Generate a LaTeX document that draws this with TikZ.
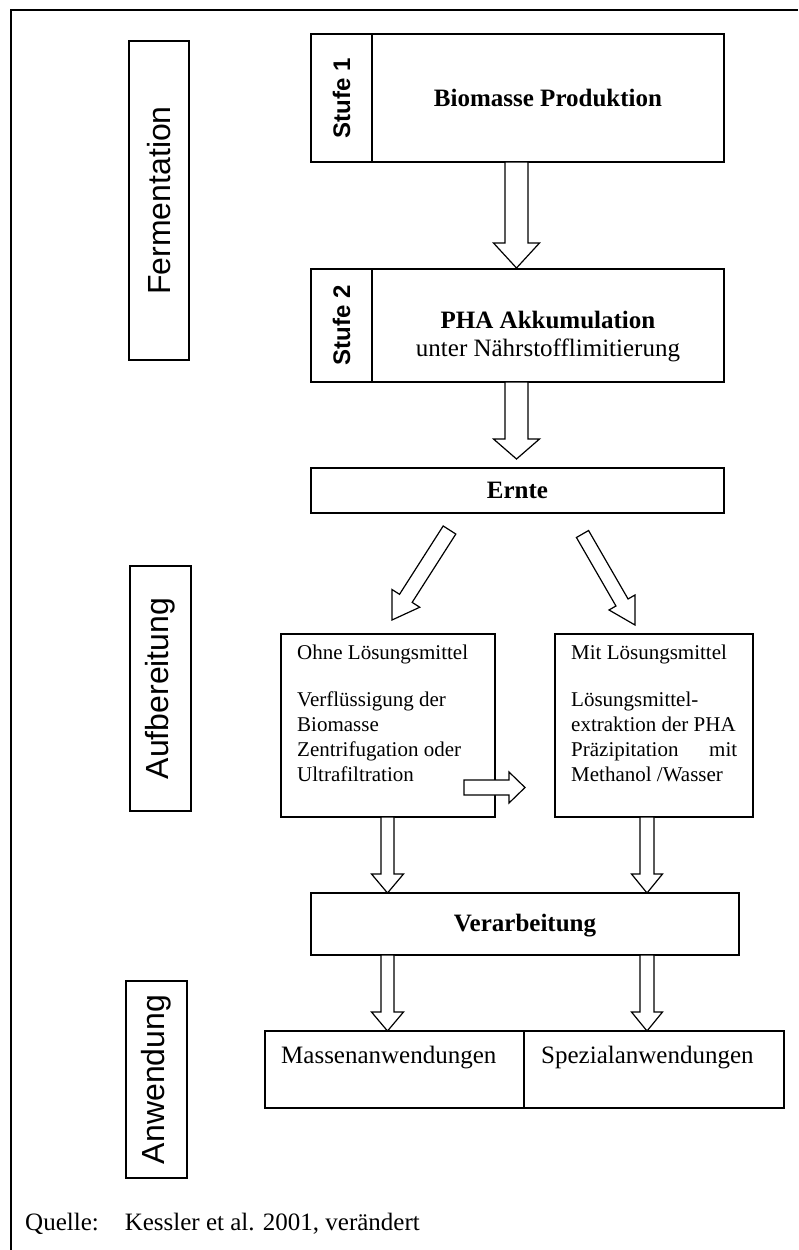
\documentclass[tikz,border=0pt]{standalone}
\usepackage{fontspec}
\setmainfont{Liberation Serif}
\setsansfont{Liberation Sans}
\usetikzlibrary{calc}
\newcommand{\blockarrow}[5]{%
  \coordinate (#1#2base) at ($(#2)!#5!(#1)$);
  \draw[barrow] ($(#1)!#3!90:(#2)$) -- ($(#1#2base)!#3!90:(#2)$) -- ($(#1#2base)!#4!90:(#2)$) -- (#2)
     -- ($(#1#2base)!#4!-90:(#2)$) -- ($(#1#2base)!#3!-90:(#2)$) -- ($(#1)!#3!-90:(#2)$) -- cycle;}
\tikzset{
  box/.style={draw, line width=1.4pt, inner sep=0pt},
  side/.style={box, rotate=90, font=\sffamily\fontsize{32}{32}\selectfont},
  stufelab/.style={box, rotate=90, font=\sffamily\bfseries\fontsize{24}{24}\selectfont},
  btitle/.style={font=\bfseries\fontsize{25}{30}\selectfont, inner sep=0pt},
  ntext/.style={font=\fontsize{25}{30}\selectfont, inner sep=0pt},
  para/.style={font=\fontsize{21}{25}\selectfont, align=left, inner sep=0pt},
  barrow/.style={draw, line width=1.2pt, fill=white, line join=miter},
  frameline/.style={line width=2.5pt}
}
\begin{document}
\begin{tikzpicture}[x=1pt,y=-1pt]
\useasboundingbox (0,0) rectangle (798,1250);
% frame
\coordinate (fr0) at (11,1250);
\coordinate (fr1) at (11,10);
\coordinate (fr2) at (798,10);
\draw[frameline] (fr0) -- (fr1) -- (fr2);

% side labels
\node[side, minimum width=319pt, minimum height=60pt] (ferm) at (159,200.5) {Fermentation};
\node[side, minimum width=245pt, minimum height=61pt] (aufb) at (160.5,688.5) {Aufbereitung};
\node[side, minimum width=197pt, minimum height=61pt] (anw) at (156.5,1079.5) {Anwendung};

% Stufe 1
\node[stufelab, minimum width=128pt, minimum height=61pt] (s1lab) at (341.5,98) {Stufe 1};
\node[box, btitle, minimum width=352pt, minimum height=128pt] (s1) at (548,98) {Biomasse Produktion};
% Stufe 2
\node[stufelab, minimum width=113pt, minimum height=61pt] (s2lab) at (341.5,325.5) {Stufe 2};
\node[box, minimum width=352pt, minimum height=113pt] (s2) at (548,325.5) {};
\node[btitle, anchor=base] (s2a) at (548,328.5) {PHA Akkumulation};
\node[ntext, anchor=base] (s2b) at (548,356) {unter Nährstofflimitierung};
% Ernte
\node[box, btitle, minimum width=413pt, minimum height=45pt] (ernte) at (517.5,490.5) {Ernte};
% Ohne / Mit
\node[box, minimum width=214pt, minimum height=183pt] (ohne) at (388,725.5) {};
\node[box, minimum width=198pt, minimum height=183pt] (mit) at (654,725.5) {};
\node[para, anchor=north west] (ohnet) at (297,645) {Ohne Lösungsmittel\\[22pt]Verflüssigung der\\Biomasse\\Zentrifugation oder\\Ultrafiltration};
\node[para, anchor=north west] (mitt) at (571,645) {Mit Lösungsmittel\\[22pt]Lösungsmittel-\\extraktion der PHA\\\makebox[166pt]{Präzipitation\hfill mit}\\Methanol /Wasser};
% Verarbeitung
\node[box, btitle, minimum width=428pt, minimum height=62pt, text depth=2pt] (verarb) at (525,924) {Verarbeitung};
% Anwendungen
\node[box, minimum width=259pt, minimum height=77pt] (massen) at (394.5,1069.5) {};
\node[box, minimum width=260pt, minimum height=77pt] (spez) at (654,1069.5) {};
\node[ntext, anchor=base west] (massent) at (281,1063) {Massenanwendungen};
\node[ntext, anchor=base west] (spezt) at (541,1063) {Spezialanwendungen};
% source
\node[ntext, anchor=base west] (quelle) at (25,1230) {Quelle:\hspace{26pt}Kessler et al. 2001, verändert};

% arrow coordinates
\coordinate (a1t) at (516.5,162);  \coordinate (a1h) at (516.5,268);
\coordinate (a2t) at (516.5,382);  \coordinate (a2h) at (516.5,459);
\coordinate (dlt) at (449.5,530);  \coordinate (dlh) at (392,620);
\coordinate (drt) at (582.5,534);  \coordinate (drh) at (635,625);
\coordinate (ht) at (464,787.5);   \coordinate (hh) at (525,787.5);
\coordinate (o1t) at (387.5,817);  \coordinate (o1h) at (387.5,893);
\coordinate (m1t) at (647,817);    \coordinate (m1h) at (647,893);
\coordinate (v1t) at (387.5,955);  \coordinate (v1h) at (387.5,1031);
\coordinate (v2t) at (647,955);    \coordinate (v2h) at (647,1031);

\blockarrow{a1t}{a1h}{11.5pt}{23pt}{25pt}
\blockarrow{a2t}{a2h}{11.5pt}{23pt}{20pt}
\blockarrow{dlt}{dlh}{7.5pt}{16.5pt}{25.7pt}
\blockarrow{drt}{drh}{7pt}{15pt}{26pt}
\blockarrow{ht}{hh}{7.5pt}{15.5pt}{16pt}
\blockarrow{o1t}{o1h}{6.5pt}{16pt}{19pt}
\blockarrow{m1t}{m1h}{7pt}{15.5pt}{19pt}
\blockarrow{v1t}{v1h}{6.5pt}{16pt}{19pt}
\blockarrow{v2t}{v2h}{7pt}{15.5pt}{19pt}
\end{tikzpicture}
\end{document}
